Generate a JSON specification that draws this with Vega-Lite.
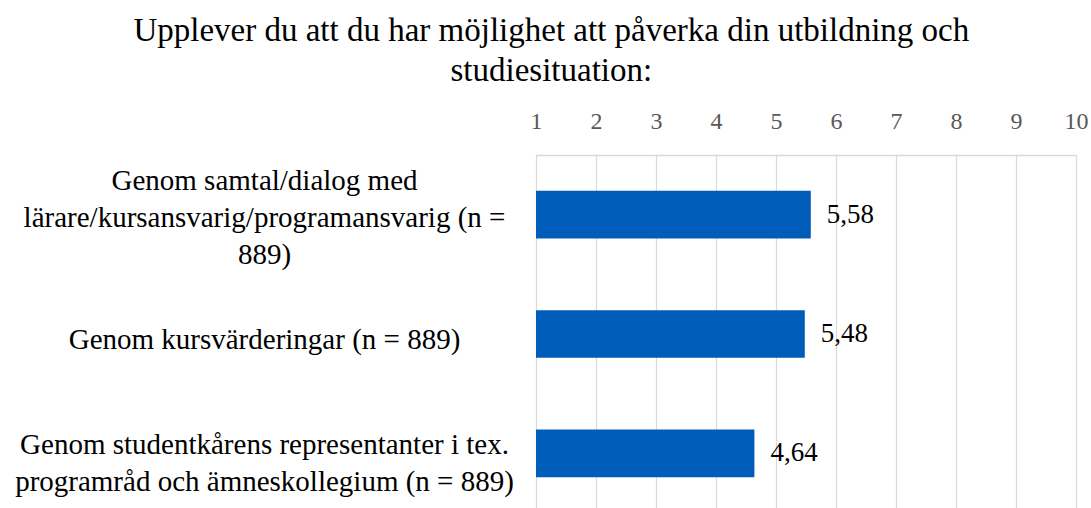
{
  "$schema": "https://vega.github.io/schema/vega-lite/v6.json",
  "width": 540,
  "height": 358,
  "autosize": {"type": "none"},
  "padding": {"left": 536, "top": 155, "right": 15, "bottom": 0},
  "background": "white",
  "title": {
    "text": ["Upplever du att du har möjlighet att påverka din utbildning och", "studiesituation:"],
    "font": "Liberation Serif",
    "fontSize": 33,
    "fontWeight": "normal",
    "color": "#000000",
    "lineHeight": 40,
    "anchor": "middle",
    "frame": "bounds",
    "offset": 21
  },
  "data": {
    "values": [
      {"category": "Genom samtal/dialog med lärare/kursansvarig/programansvarig (n = 889)", "value": 5.58},
      {"category": "Genom kursvärderingar (n = 889)", "value": 5.48},
      {"category": "Genom studentkårens representanter i tex. programråd och ämneskollegium (n = 889)", "value": 4.64}
    ]
  },
  "encoding": {
    "y": {
      "field": "category",
      "type": "nominal",
      "sort": null,
      "scale": {"paddingInner": 0.6, "paddingOuter": 0.3},
      "axis": {
        "title": null,
        "orient": "left",
        "domain": false,
        "ticks": false,
        "labelAlign": "center",
        "labelBaseline": "middle",
        "labelPadding": 272,
        "labelFont": "Liberation Serif",
        "labelFontSize": 29,
        "labelLineHeight": 37,
        "labelColor": "#000000",
        "labelLimit": 0,
        "labelOffset": {"condition": [
          {"test": "indexof(datum.value, 'samtal') >= 0", "value": -34},
          {"test": "indexof(datum.value, 'studentkårens') >= 0", "value": -8}
        ], "value": 6},
        "labelExpr": "indexof(datum.value, 'samtal') >= 0 ? ['Genom samtal/dialog med', 'lärare/kursansvarig/programansvarig (n =', '889)'] : indexof(datum.value, 'studentkårens') >= 0 ? ['Genom studentkårens representanter i tex.', 'programråd och ämneskollegium (n = 889)'] : datum.value"
      }
    }
  },
  "layer": [
    {
      "mark": {"type": "bar", "color": "#005CB9"},
      "encoding": {
        "x": {
          "field": "value",
          "type": "quantitative",
          "scale": {"domain": [1, 10], "nice": false, "zero": false},
          "axis": {
            "title": null,
            "orient": "top",
            "values": [1, 2, 3, 4, 5, 6, 7, 8, 9, 10],
            "format": "d",
            "grid": true,
            "gridColor": "#d9d9d9",
            "gridWidth": 1.2,
            "domain": true,
            "domainColor": "#d9d9d9",
            "domainWidth": 1.5,
            "ticks": false,
            "labelFlush": false,
            "labelOverlap": false,
            "labelFont": "Liberation Serif",
            "labelFontSize": 24,
            "labelColor": "#595959",
            "labelPadding": 27,
            "labelBaseline": "alphabetic"
          }
        },
        "x2": {"datum": 1}
      }
    },
    {
      "mark": {"type": "text", "align": "left", "baseline": "middle", "dx": 16, "font": "Liberation Serif", "fontSize": 27, "color": "#000000"},
      "encoding": {
        "x": {"field": "value", "type": "quantitative"},
        "text": {"field": "value", "type": "quantitative", "format": ".2f"}
      }
    }
  ],
  "config": {
    "view": {"stroke": null},
    "locale": {
      "number": {"decimal": ",", "thousands": " ", "grouping": [3], "currency": ["", " kr"]}
    }
  }
}
